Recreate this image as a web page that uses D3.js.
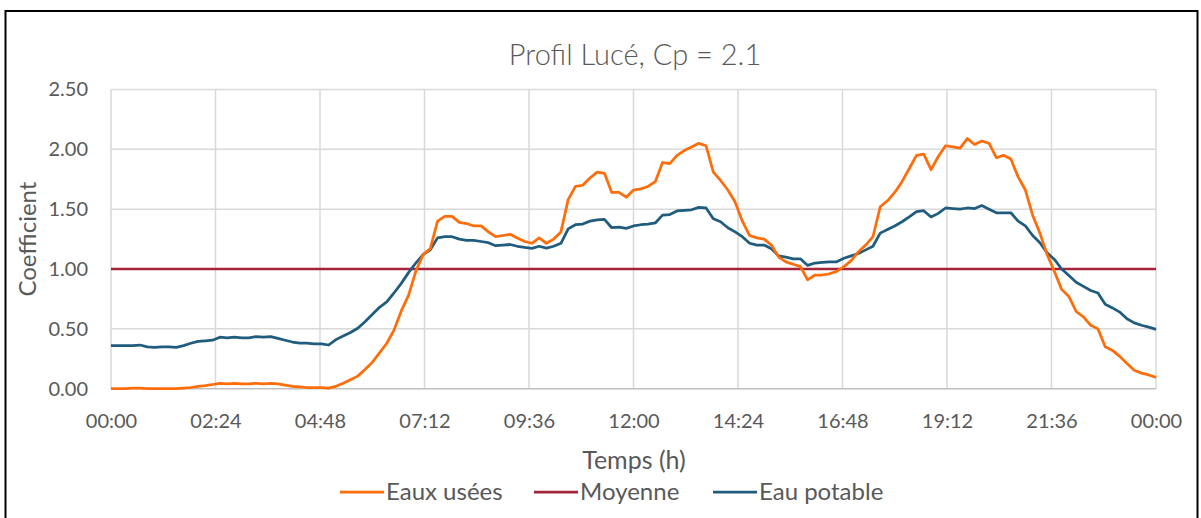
<!DOCTYPE html>
<html>
<head>
<meta charset="utf-8">
<script src="https://cdn.jsdelivr.net/npm/d3@7"></script>
<style>
  html, body { margin: 0; padding: 0; background: #fff; }
  svg { display: block; }
  text { font-family: Lato, "Open Sans", sans-serif; fill: #595959; }
</style>
</head>
<body>
<svg id="chart" width="1201" height="518"></svg>
<script>
// Sampling step of the series (minutes)
const stepMinutes = 10;

// Wastewater coefficient (Eaux usées), every 10 min from 00:00 to 24:00
const eauxUsees = [
  0.00, 0.00, 0.00, 0.005, 0.005, 0.00, 0.00, 0.00, 0.00, 0.00, 0.005, 0.01,
  0.02, 0.025, 0.035, 0.045, 0.04, 0.045, 0.04, 0.04, 0.045, 0.04, 0.045, 0.04,
  0.03, 0.02, 0.015, 0.01, 0.01, 0.01, 0.005, 0.02, 0.045, 0.075, 0.105, 0.16,
  0.22, 0.30, 0.38, 0.49, 0.65, 0.78, 0.98, 1.12, 1.17, 1.40, 1.44, 1.44,
  1.39, 1.38, 1.36, 1.36, 1.31, 1.27, 1.28, 1.29, 1.26, 1.23, 1.215, 1.26,
  1.215, 1.25, 1.31, 1.58, 1.69, 1.70, 1.76, 1.81, 1.80, 1.64, 1.64, 1.60,
  1.66, 1.67, 1.69, 1.73, 1.89, 1.88, 1.95, 1.99, 2.02, 2.05, 2.03, 1.81,
  1.74, 1.66, 1.56, 1.40, 1.28, 1.26, 1.25, 1.20, 1.10, 1.06, 1.04, 1.02,
  0.91, 0.95, 0.95, 0.96, 0.98, 1.02, 1.07, 1.145, 1.20, 1.27, 1.52, 1.57,
  1.64, 1.73, 1.84, 1.95, 1.96, 1.83, 1.94, 2.03, 2.02, 2.01, 2.09, 2.04,
  2.07, 2.05, 1.93, 1.95, 1.92, 1.77, 1.66, 1.45, 1.30, 1.12, 0.98, 0.83,
  0.77, 0.645, 0.60, 0.53, 0.50, 0.35, 0.32, 0.27, 0.21, 0.155, 0.13, 0.115,
  0.095
];

// Drinking-water coefficient (Eau potable), same time steps
const eauPotable = [
  0.36, 0.36, 0.36, 0.36, 0.365, 0.35, 0.345, 0.35, 0.35, 0.345, 0.36, 0.38,
  0.395, 0.40, 0.405, 0.43, 0.425, 0.43, 0.425, 0.425, 0.435, 0.43, 0.435, 0.42,
  0.405, 0.39, 0.38, 0.38, 0.375, 0.375, 0.365, 0.41, 0.44, 0.47, 0.505, 0.56,
  0.62, 0.68, 0.725, 0.80, 0.88, 0.97, 1.05, 1.12, 1.16, 1.26, 1.27, 1.27,
  1.25, 1.24, 1.24, 1.23, 1.22, 1.195, 1.20, 1.205, 1.19, 1.18, 1.173, 1.19,
  1.175, 1.19, 1.215, 1.335, 1.37, 1.376, 1.40, 1.41, 1.415, 1.345, 1.35, 1.34,
  1.36, 1.37, 1.375, 1.385, 1.45, 1.455, 1.485, 1.49, 1.495, 1.515, 1.51, 1.42,
  1.395, 1.345, 1.31, 1.27, 1.215, 1.20, 1.20, 1.17, 1.11, 1.10, 1.085, 1.085,
  1.03, 1.05, 1.055, 1.06, 1.06, 1.09, 1.11, 1.13, 1.16, 1.19, 1.30, 1.33,
  1.36, 1.395, 1.435, 1.48, 1.487, 1.435, 1.465, 1.51, 1.505, 1.50, 1.51, 1.505,
  1.53, 1.50, 1.47, 1.47, 1.47, 1.40, 1.36, 1.28, 1.22, 1.135, 1.08, 1.00,
  0.945, 0.89, 0.855, 0.82, 0.80, 0.705, 0.675, 0.64, 0.585, 0.55, 0.53, 0.515,
  0.496
];

// Reference mean coefficient (Moyenne)
const moyenne = [1.0, 1.0];
const moyenneMinutes = [0, 1440];

// Axis ticks
const xTickMinutes = [0, 144, 288, 432, 576, 720, 864, 1008, 1152, 1296, 1440];
const xTickLabels = ["00:00", "02:24", "04:48", "07:12", "09:36", "12:00", "14:24", "16:48", "19:12", "21:36", "00:00"];
const yTickValues = [0, 0.5, 1.0, 1.5, 2.0, 2.5];

const seriesNames = ["Eaux usées", "Moyenne", "Eau potable"];
const seriesColors = ["#FF6D0A", "#A3243B", "#1F5C7E"];

const svg = d3.select("#chart");
const plot = { left: 111, right: 1156, top: 89.5, bottom: 388.7 };

// Outer frame
svg.append("rect")
  .attr("x", 5.5).attr("y", 11).attr("width", 1192).attr("height", 520)
  .attr("fill", "none").attr("stroke", "#000").attr("stroke-width", 2);

const x = d3.scaleLinear().domain([0, 1440]).range([plot.left, plot.right]);
const y = d3.scaleLinear().domain([0, 2.5]).range([plot.bottom, plot.top]);

// Horizontal gridlines
svg.append("g")
  .selectAll("line")
  .data(yTickValues.slice(1))
  .join("line")
  .attr("x1", plot.left).attr("x2", plot.right)
  .attr("y1", d => y(d)).attr("y2", d => y(d))
  .attr("stroke", "#d9d9d9").attr("stroke-width", 1.5);

// Vertical gridlines
svg.append("g")
  .selectAll("line")
  .data(xTickMinutes)
  .join("line")
  .attr("x1", d => x(d)).attr("x2", d => x(d))
  .attr("y1", plot.top).attr("y2", plot.bottom)
  .attr("stroke", "#d9d9d9").attr("stroke-width", 1.5);

// Bottom axis line
svg.append("line")
  .attr("x1", plot.left).attr("x2", plot.right)
  .attr("y1", y(0)).attr("y2", y(0))
  .attr("stroke", "#bfbfbf").attr("stroke-width", 1.5);

// X axis labels
const xAxis = d3.axisBottom(x)
  .tickValues(xTickMinutes)
  .tickFormat((d, i) => xTickLabels[i])
  .tickSize(0)
  .tickPadding(25);
const gx = svg.append("g").attr("transform", `translate(0,${y(0)})`).call(xAxis);
gx.select(".domain").remove();
gx.selectAll("text").style("font-size", "20px").attr("fill", "#595959");

// Y axis labels
const yAxis = d3.axisLeft(y)
  .tickValues(yTickValues)
  .tickFormat(d3.format(".2f"))
  .tickSize(0)
  .tickPadding(23);
const gy = svg.append("g").attr("transform", `translate(${plot.left},0)`).call(yAxis);
gy.select(".domain").remove();
gy.selectAll("text").style("font-size", "20px").attr("fill", "#595959");

// Series lines
const line = d3.line()
  .x(d => x(d[0]))
  .y(d => y(d[1]));

const toPoints = vals => vals.map((v, i) => [i * stepMinutes, v]);

svg.append("path")
  .datum(moyenneMinutes.map((m, i) => [m, moyenne[i]]))
  .attr("d", line)
  .attr("fill", "none").attr("stroke", seriesColors[1]).attr("stroke-width", 2.5);

svg.append("path")
  .datum(toPoints(eauPotable))
  .attr("d", line)
  .attr("fill", "none").attr("stroke", seriesColors[2]).attr("stroke-width", 2.75)
  .attr("stroke-linejoin", "round");

svg.append("path")
  .datum(toPoints(eauxUsees))
  .attr("d", line)
  .attr("fill", "none").attr("stroke", seriesColors[0]).attr("stroke-width", 2.75)
  .attr("stroke-linejoin", "round");

// Title
svg.append("text")
  .attr("x", 635).attr("y", 65)
  .attr("text-anchor", "middle")
  .style("font-size", "29px")
  .style("font-weight", 300)
  .text("Profil Lucé, Cp = 2.1");

// Axis titles
svg.append("text")
  .attr("x", 634).attr("y", 469)
  .attr("text-anchor", "middle")
  .style("font-size", "25px")
  .text("Temps (h)");

svg.append("text")
  .attr("transform", `translate(36,${(plot.top + plot.bottom) / 2}) rotate(-90)`)
  .attr("text-anchor", "middle")
  .style("font-size", "24px")
  .text("Coefficient");

// Legend
const legendItems = [
  { name: seriesNames[0], color: seriesColors[0], x: 340 },
  { name: seriesNames[1], color: seriesColors[1], x: 534 },
  { name: seriesNames[2], color: seriesColors[2], x: 713 }
];
const lg = svg.append("g").attr("transform", "translate(0,492)");
const li = lg.selectAll("g").data(legendItems).join("g")
  .attr("transform", d => `translate(${d.x},0)`);
li.append("line")
  .attr("x1", 0).attr("x2", 44).attr("y1", 0).attr("y2", 0)
  .attr("stroke", d => d.color).attr("stroke-width", 2.75);
li.append("text")
  .attr("x", 46).attr("y", 8)
  .style("font-size", "24px")
  .text(d => d.name);
</script>
</body>
</html>
